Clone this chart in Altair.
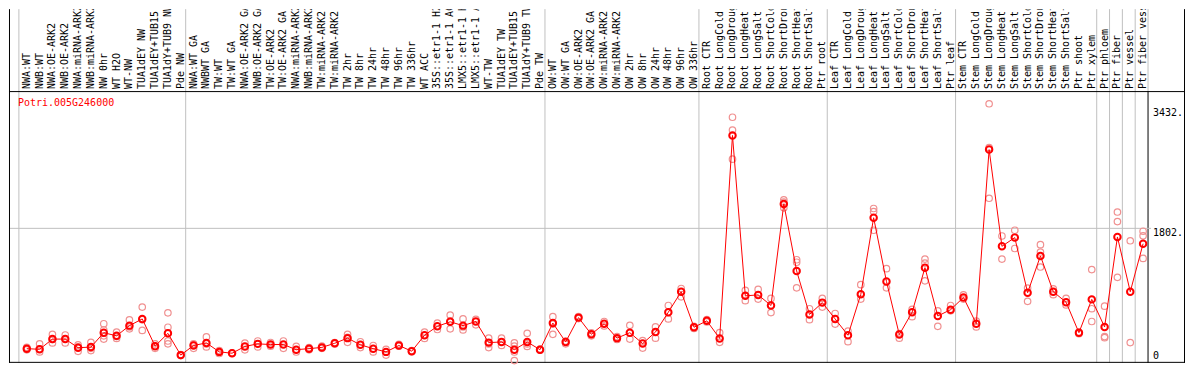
import altair as alt
import pandas as pd
import numpy as np

gene_id = "Potri.005G246000"

categories = [
    "NWA:WT", "NWB:WT", "NWA:OE-ARK2", "NWB:OE-ARK2", "NWA:miRNA-ARK2", "NWB:miRNA-ARK2",
    "NW 0hr", "WT H2O", "WT-NW", "TUA1dEY NW", "TUA1dEY+TUB15 NW", "TUA1dY+TUB9 NW", "Pde NW",
    "NWA:WT GA", "NWBWT GA", "TW:WT", "TW:WT GA", "NWA:OE-ARK2 GA", "NWB:OE-ARK2 GA",
    "TW:OE-ARK2", "TW:OE-ARK2 GA", "NWA:miRNA-ARK2", "NWB:miRNA-ARK2", "TW:miRNA-ARK2",
    "TW:miRNA-ARK2 GA", "TW 2hr", "TW 8hr", "TW 24hr", "TW 48hr", "TW 96hr", "TW 336hr",
    "WT ACC", "35S::etr1-1 H2O", "35S::etr1-1 ACC", "LMX5::etr1-1 H2O", "LMX5::etr1-1 ACC",
    "WT-TW", "TUA1dEY TW", "TUA1dEY+TUB15 TW", "TUA1dY+TUB9 TW", "Pde TW",
    "OW:WT", "OW:WT GA", "OW:OE-ARK2", "OW:OE-ARK2 GA", "OW:miRNA-ARK2", "OW:miRNA-ARK2 GA",
    "OW 2hr", "OW 8hr", "OW 24hr", "OW 48hr", "OW 96hr", "OW 336hr",
    "Root CTR", "Root LongCold", "Root LongDrought", "Root LongHeat", "Root LongSalt",
    "Root ShortCold", "Root ShortDrought", "Root ShortHeat", "Root ShortSalt", "Ptr root",
    "Leaf CTR", "Leaf LongCold", "Leaf LongDrought", "Leaf LongHeat", "Leaf LongSalt",
    "Leaf ShortCold", "Leaf ShortDrought", "Leaf ShortHeat", "Leaf ShortSalt", "Ptr leaf",
    "Stem CTR", "Stem LongCold", "Stem LongDrought", "Stem LongHeat", "Stem LongSalt",
    "Stem ShortCold", "Stem ShortDrought", "Stem ShortHeat", "Stem ShortSalt", "Ptr shoot",
    "Ptr xylem", "Ptr phloem", "Ptr fiber", "Ptr vessel", "Ptr fiber vessel",
]

group_sizes = [13, 28, 12, 10, 10, 11, 1, 1, 1, 1]

means = [
    166, 157, 296, 296, 179, 187, 383, 340, 479, 570, 200, 374, 78,
    209, 244, 122, 104, 196, 231, 222, 222, 152, 166, 183, 239, 309, 218, 166, 122, 209, 131,
    348, 470, 531, 479, 535, 248, 257, 152, 257, 152,
    514, 257, 588, 361, 505, 309, 383, 235, 392, 662, 940, 457,
    544, 305, 3065, 884, 897, 753, 2133, 1223, 631, 792,
    570, 348, 905, 1946, 1080, 357, 662, 1267, 610, 696,
    862, 505, 2873, 1558, 1676, 927, 1427, 940, 797, 383, 836,
    461, 1685, 940, 1593,
]

replicates = [
    [150, 175, 185], [231, 122, 160], [361, 244, 290], [352, 244, 300], [218, 130, 190],
    [252, 140, 170], [505, 296, 420, 340], [392, 305, 330], [557, 435, 460], [731, 414, 560],
    [230, 170, 200], [653, 457, 231, 270], [85, 72],
    [231, 170, 220], [326, 190, 230], [140, 100], [110, 100], [240, 150], [270, 190],
    [250, 200], [270, 170], [196, 120], [180, 150], [200, 170], [250, 230], [361, 252, 320],
    [260, 180], [209, 122], [157, 78], [226, 200], [140, 125], [392, 305], [514, 426],
    [623, 435, 540], [570, 420, 460], [565, 490], [309, 180, 230], [309, 209, 260],
    [244, 4, 200, 120], [374, 196, 230], [160, 145],
    [601, 361, 500], [231, 270], [601, 575], [340, 380], [535, 475], [330, 290],
    [483, 296], [274, 174], [461, 309], [753, 570], [984, 871], [440, 470],
    [560, 530], [383, 252], [3313, 3138, 2743], [958, 818], [971, 840], [849, 657],
    [2190, 2081, 2160], [1375, 1341, 993], [709, 560], [850, 731],
    [644, 500], [405, 261], [1036, 840], [2072, 2030, 1776], [1254, 993], [309, 370],
    [700, 601], [1384, 1330, 1088], [679, 470], [753, 680],
    [897, 840], [540, 461], [3496, 2900, 2211], [1698, 1384], [1776, 1528], [990, 810],
    [1580, 1480, 1276], [980, 900], [850, 760], [390, 370], [1241, 709, 535],
    [744, 330, 315], [2024, 1894, 1136], [1633, 248], [1763, 1700, 1393],
]

axis_values = [3432, 1802, 0]
axis_texts = ["3432.", "1802.", "0"]
grid_value = 1802

# ---------------- layout constants ----------------
W = 1140          # plot width
H = 354           # full view height (label strip + plot)
STRIP = 82        # label strip height
TOTAL_W = 1178
FONT = "DejaVu Sans Mono"
REP_COLOR = "#f09090"
RED = "#ff0000"

n = len(categories)
x_scale = alt.Scale(domain=[-1.385, n - 0.615], nice=False, zero=False)
y_scale = alt.Scale(domain=[-27.2, 4783], nice=False, zero=False)

mean_df = pd.DataFrame({"idx": np.arange(n), "cat": categories, "mean": means})
rep_rows = []
for i, reps in enumerate(replicates):
    for r in reps:
        rep_rows.append({"idx": i, "cat": categories[i], "val": r})
rep_df = pd.DataFrame(rep_rows)

bounds = np.concatenate([[0], np.cumsum(group_sizes)])
grid_df = pd.DataFrame({"b": bounds[:-1] - 0.615})
end_df = pd.DataFrame({"b": [bounds[-1] - 0.615]})

X = lambda f: alt.X(f, scale=x_scale, axis=None)
Y = lambda f: alt.Y(f, scale=y_scale, axis=None)

vgrid = alt.Chart(grid_df).mark_rule(color="#c0c0c0", strokeWidth=1).encode(
    x=X("b:Q"), y=alt.value(0), y2=alt.value(H)
)
end_strip = alt.Chart(end_df).mark_rule(color="#c0c0c0", strokeWidth=1).encode(
    x=X("b:Q"), y=alt.value(0), y2=alt.value(STRIP)
)
end_plot = alt.Chart(end_df).mark_rule(color="black", strokeWidth=1).encode(
    x=X("b:Q"), y=alt.value(STRIP), y2=alt.value(H)
)
hgrid = alt.Chart(pd.DataFrame({"v": [grid_value]})).mark_rule(
    color="#c0c0c0", strokeWidth=1
).encode(y=Y("v:Q"), x=alt.value(0), x2=alt.value(W + 3))

left_border = alt.Chart(pd.DataFrame({"a": [0]})).mark_rule(color="black", strokeWidth=1).encode(
    x=alt.value(0.5), y=alt.value(0), y2=alt.value(H)
)
right_border = alt.Chart(pd.DataFrame({"a": [0]})).mark_rule(color="black", strokeWidth=1).encode(
    x=alt.value(TOTAL_W - 1.5), y=alt.value(0), y2=alt.value(H)
)
strip_line = alt.Chart(pd.DataFrame({"a": [0]})).mark_rule(color="black", strokeWidth=1).encode(
    x=alt.value(0), x2=alt.value(TOTAL_W - 1), y=alt.value(STRIP + 0.5)
)
bottom_line = alt.Chart(pd.DataFrame({"a": [0]})).mark_rule(color="black", strokeWidth=1).encode(
    x=alt.value(0), x2=alt.value(TOTAL_W - 1), y=alt.value(H - 0.5)
)

cat_labels = alt.Chart(mean_df).mark_text(
    angle=270, align="left", baseline="middle", font=FONT, fontSize=10,
    color="black", clip=True
).encode(x=X("idx:Q"), y=alt.value(STRIP - 2), text="cat:N")

reps_layer = alt.Chart(rep_df).mark_point(
    shape="circle", filled=False, size=42, strokeWidth=1.2, color=REP_COLOR, opacity=1
).encode(x=X("idx:Q"), y=Y("val:Q"))

line_layer = alt.Chart(mean_df).mark_line(color=RED, strokeWidth=1).encode(
    x=X("idx:Q"), y=Y("mean:Q")
)
mean_layer = alt.Chart(mean_df).mark_point(
    shape="circle", filled=False, size=42, strokeWidth=2, color=RED, opacity=1
).encode(x=X("idx:Q"), y=Y("mean:Q"))

gene_text = alt.Chart(pd.DataFrame({"t": [gene_id]})).mark_text(
    align="left", baseline="middle", font=FONT, fontSize=10, color=RED
).encode(x=alt.value(9), y=alt.value(STRIP + 12), text="t:N")

ax_df = pd.DataFrame({"v": axis_values, "t": axis_texts})
ax_top = alt.Chart(ax_df[ax_df.v > 0]).mark_text(
    align="left", baseline="top", font=FONT, fontSize=10, color="black"
).encode(x=alt.value(W + 5), y=Y("v:Q"), text="t:N")
ax_zero = alt.Chart(ax_df[ax_df.v == 0]).mark_text(
    align="left", baseline="bottom", font=FONT, fontSize=10, color="black"
).encode(x=alt.value(W + 5), y=Y("v:Q"), text="t:N")

chart = alt.layer(
    vgrid, end_strip, end_plot, hgrid, left_border, right_border, strip_line, bottom_line,
    cat_labels, reps_layer, line_layer, mean_layer, gene_text, ax_top, ax_zero
).properties(
    width=W, height=H, padding=0
).configure_view(strokeWidth=0).configure_axis(grid=False)

chart.save("out.html", embed_options={"renderer": "svg", "actions": False})
